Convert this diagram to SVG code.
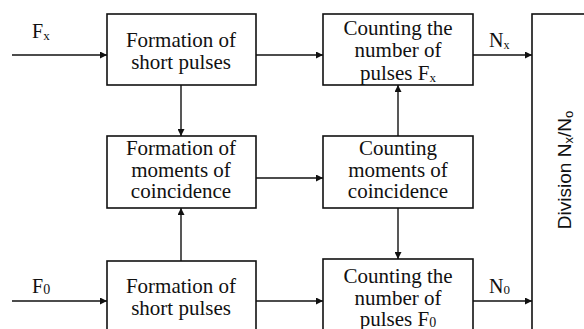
<svg xmlns="http://www.w3.org/2000/svg" width="584" height="329" viewBox="0 0 584 329">
<style>
.box{fill:#fff;stroke:#111;stroke-width:1.6}
.t{font-family:"Liberation Serif","Times New Roman",serif;font-size:21px;fill:#111;text-anchor:middle}
.lbl{font-family:"Liberation Serif","Times New Roman",serif;font-size:20px;fill:#111}
.ln{stroke:#111;stroke-width:1.4;fill:none;marker-end:url(#ah)}
.dv{font-family:"Liberation Sans",Arial,sans-serif;font-size:19px;fill:#111;text-anchor:middle}
</style>
<defs>
<marker id="ah" viewBox="0 0 10 10" refX="10" refY="5" markerWidth="8" markerHeight="7" markerUnits="userSpaceOnUse" orient="auto">
<path d="M0,0 L10,5 L0,10 z" fill="#111"/>
</marker>
</defs>
<rect width="584" height="329" fill="#fff"/>
<g id="connectors">
<line class="ln" x1="12" y1="55" x2="107" y2="55"/>
<line class="ln" x1="12" y1="301" x2="107" y2="301"/>
<line class="ln" x1="256" y1="55" x2="323" y2="55"/>
<line class="ln" x1="256" y1="301" x2="323" y2="301"/>
<line class="ln" x1="181" y1="85" x2="181" y2="136"/>
<line class="ln" x1="181" y1="261" x2="181" y2="208"/>
<line class="ln" x1="256" y1="178" x2="323" y2="178"/>
<line class="ln" x1="398" y1="136" x2="398" y2="85"/>
<line class="ln" x1="398" y1="208" x2="398" y2="259"/>
<line class="ln" x1="473" y1="55" x2="532" y2="55"/>
<line class="ln" x1="473" y1="301" x2="532" y2="301"/>
<text class="lbl" x="32" y="38">F<tspan font-size="13" dy="2">x</tspan></text>
<text class="lbl" x="32" y="293">F<tspan font-size="14" dy="1">0</tspan></text>
<text class="lbl" x="489" y="47" font-size="18">N<tspan font-size="12" dy="2">x</tspan></text>
<text class="lbl" x="489" y="293" font-size="18">N<tspan font-size="13" dy="1">0</tspan></text>
</g>
<g id="n1">
<rect class="box" x="107" y="14" width="149" height="71"/>
<text class="t" x="181" y="47">Formation of</text>
<text class="t" x="181" y="69">short pulses</text>
</g>
<g id="n2">
<rect class="box" x="323" y="14" width="150" height="71"/>
<text class="t" x="398" y="35">Counting the</text>
<text class="t" x="398" y="57">number of</text>
<text class="t" x="398" y="80">pulses F<tspan font-size="13" dy="2">x</tspan></text>
</g>
<g id="n3">
<rect class="box" x="107" y="136" width="149" height="72"/>
<text class="t" x="181" y="155">Formation of</text>
<text class="t" x="181" y="177">moments of</text>
<text class="t" x="181" y="198">coincidence</text>
</g>
<g id="n4">
<rect class="box" x="323" y="136" width="150" height="72"/>
<text class="t" x="398" y="155">Counting</text>
<text class="t" x="398" y="177">moments of</text>
<text class="t" x="398" y="198">coincidence</text>
</g>
<g id="n5">
<rect class="box" x="107" y="261" width="149" height="80"/>
<text class="t" x="181" y="293">Formation of</text>
<text class="t" x="181" y="315">short pulses</text>
</g>
<g id="n6">
<rect class="box" x="323" y="259" width="150" height="80"/>
<text class="t" x="398" y="283">Counting the</text>
<text class="t" x="398" y="305">number of</text>
<text class="t" x="398" y="326">pulses F<tspan font-size="14" dy="1">0</tspan></text>
</g>
<g id="n7">
<rect class="box" x="532" y="14" width="70" height="330"/>
<text class="dv" transform="translate(571,170) rotate(-90)">Division N<tspan font-size="13" dy="2">x</tspan><tspan dy="-2">/N</tspan><tspan font-size="13" dy="2">o</tspan></text>
</g>
</svg>
